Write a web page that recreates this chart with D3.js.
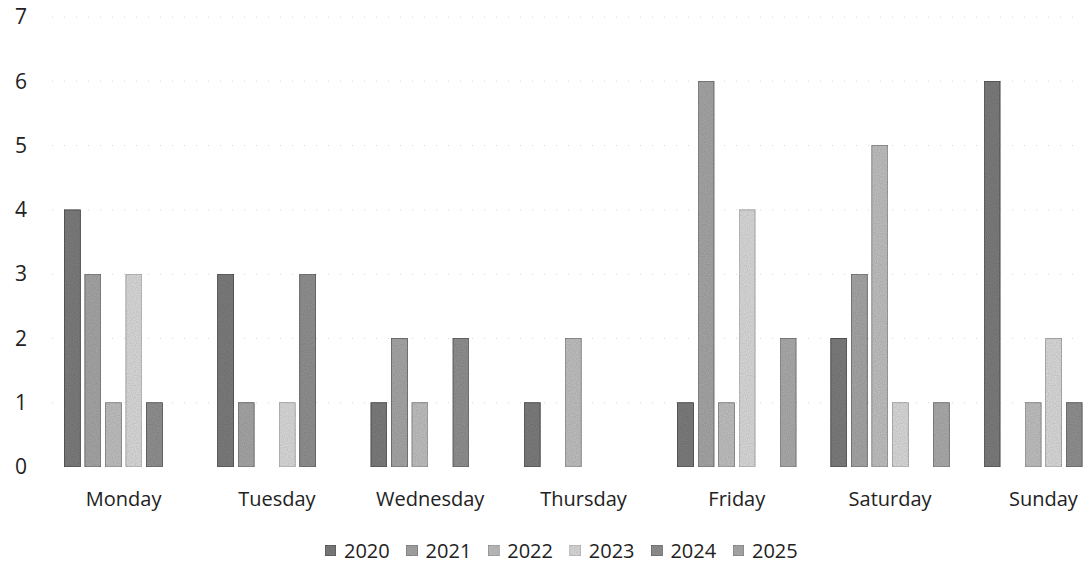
<!DOCTYPE html>
<html>
<head>
<meta charset="utf-8">
<script src="https://cdn.jsdelivr.net/npm/d3@7"></script>
<style>
  html, body { margin: 0; padding: 0; background: #fff; }
  svg { display: block; }
  text { font-family: "Open Sans", "DejaVu Sans", sans-serif; fill: #222; }
</style>
</head>
<body>
<svg id="chart" width="1085" height="569"></svg>
<script>
const days = ["Monday", "Tuesday", "Wednesday", "Thursday", "Friday", "Saturday", "Sunday"];
const years = ["2020", "2021", "2022", "2023", "2024", "2025"];
const v2020 = [4, 3, 1, 1, 1, 2, 6];
const v2021 = [3, 1, 2, 0, 6, 3, 0];
const v2022 = [1, 0, 1, 2, 1, 5, 1];
const v2023 = [3, 1, 0, 0, 4, 1, 2];
const v2024 = [1, 3, 2, 0, 0, 0, 1];
const v2025 = [0, 0, 0, 0, 2, 1, 0];
const yTicks = [0, 1, 2, 3, 4, 5, 6, 7];
const seriesValues = [v2020, v2021, v2022, v2023, v2024, v2025];
const fills = ["#7a7a7a", "#a3a3a3", "#bcbcbc", "#d6d6d6", "#8e8e8e", "#a8a8a8"];
const edges = ["#3a3a3a", "#5a5a5a", "#7a7a7a", "#9a9a9a", "#4c4c4c", "#666666"];

const svg = d3.select("#chart");

// noise filter to mimic the scanned stipple look
const defs = svg.append("defs");
const f = defs.append("filter").attr("id", "grain").attr("x", 0).attr("y", 0).attr("width", 1).attr("height", 1);
f.append("feTurbulence").attr("type", "fractalNoise").attr("baseFrequency", 0.9).attr("numOctaves", 1).attr("seed", 3).attr("result", "noise");
f.append("feColorMatrix").attr("in", "noise").attr("type", "matrix")
  .attr("values", "0 0 0 0 0.5  0 0 0 0 0.5  0 0 0 0 0.5  0 0 0 0.9 -0.25").attr("result", "n2");
f.append("feComposite").attr("in", "n2").attr("in2", "SourceGraphic").attr("operator", "in").attr("result", "n3");
f.append("feBlend").attr("in", "SourceGraphic").attr("in2", "n3").attr("mode", "multiply");

const y = d3.scaleLinear().domain([0, 7]).range([467, 17]);
const x0 = d3.scaleBand().domain(days).range([47, 1120]).paddingInner(0.197).paddingOuter(0.0985);
const x1 = d3.scaleBand().domain(years).range([0, x0.bandwidth()]).paddingInner(0.22).paddingOuter(0.11);

// gridlines
svg.append("g").selectAll("line").data(yTicks.filter(t => t > 0)).join("line")
  .attr("x1", 52).attr("x2", 1080)
  .attr("y1", d => y(d)).attr("y2", d => y(d))
  .attr("stroke", "#d8d8d8").attr("stroke-width", 1)
  .attr("stroke-dasharray", "1 11");

// y axis labels
const yAxis = d3.axisLeft(y).tickValues(yTicks).tickFormat(d3.format("d")).tickSize(0).tickPadding(0);
const gy = svg.append("g").attr("transform", "translate(21,0)").call(yAxis);
gy.select(".domain").remove();
gy.selectAll("text").attr("text-anchor", "middle").attr("x", 0)
  .style("font-family", '"Open Sans", sans-serif').style("font-size", "21px").attr("fill", "#222");

// bars
const groups = svg.append("g").selectAll("g").data(days).join("g")
  .attr("transform", d => `translate(${x0(d)},0)`);
groups.selectAll("rect")
  .data((d, i) => years.map((yr, j) => ({ yr, j, v: seriesValues[j][i] })).filter(e => e.v > 0))
  .join("rect")
  .attr("x", e => x1(e.yr))
  .attr("y", e => y(e.v))
  .attr("width", x1.bandwidth())
  .attr("height", e => y(0) - y(e.v))
  .attr("fill", e => fills[e.j])
  .attr("stroke", e => edges[e.j])
  .attr("stroke-width", 0.8)
  .attr("filter", "url(#grain)");

// x axis labels
const xAxis = d3.axisBottom(x0).tickSize(0).tickPadding(0);
const gx = svg.append("g").attr("transform", "translate(0,492)").call(xAxis);
gx.select(".domain").remove();
gx.selectAll("text").style("font-family", '"Open Sans", sans-serif').style("font-size", "20px").attr("fill", "#222");

// legend
const legend = svg.append("g").attr("transform", "translate(325,551)");
const items = legend.selectAll("g").data(years).join("g")
  .attr("transform", (d, i) => `translate(${i * 81.6},0)`);
items.append("rect").attr("x", 0).attr("y", -6).attr("width", 11).attr("height", 11)
  .attr("fill", (d, i) => fills[i]).attr("stroke", (d, i) => edges[i]).attr("stroke-width", 0.6)
  .attr("filter", "url(#grain)");
items.append("text").attr("x", 19).attr("y", 0).attr("dy", "0.35em")
  .style("font-size", "20px").text(d => d);
</script>
</body>
</html>
